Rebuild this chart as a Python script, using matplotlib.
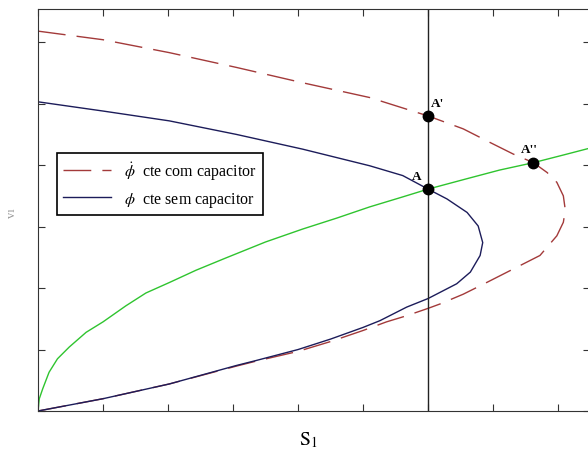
import numpy as np
import matplotlib
matplotlib.use("Agg")
import matplotlib.pyplot as plt

plt.rcParams["font.family"] = ["Liberation Serif", "DejaVu Serif"]
plt.rcParams["mathtext.fontset"] = "stix"

# curves (S1 on x, v1 on y)
green_x = [0.0, 0.02, 0.072, 0.17, 0.30, 0.48, 0.74, 1.0, 1.35, 1.66, 2.02, 2.43, 2.89, 3.5, 4.07,
           4.6, 5.1, 5.6, 6.0, 6.6, 7.1, 7.62, 8.1, 8.5]
green_y = [0.0, 0.2, 0.36, 0.63, 0.85, 1.04, 1.28, 1.45, 1.71, 1.92, 2.09, 2.29, 2.49, 2.75, 2.96,
           3.14, 3.32, 3.48, 3.61, 3.78, 3.92, 4.04, 4.17, 4.28]

blue_x = [0.0, 1.0, 2.02, 3.05, 4.07, 5.1, 5.61, 6.0, 6.29, 6.6, 6.77, 6.84, 6.8, 6.65, 6.44, 6.0,
          5.67, 5.26, 5.0, 4.5, 4.0, 3.35, 3.05, 2.02, 1.0, 0.0]
blue_y = [5.03, 4.88, 4.72, 4.50, 4.26, 3.99, 3.83, 3.61, 3.45, 3.23, 3.01, 2.74, 2.53, 2.26, 2.07, 1.83,
          1.69, 1.47, 1.36, 1.17, 1.0, 0.82, 0.74, 0.44, 0.20, 0.0]

red_x = [0.0, 1.0, 2.02, 3.05, 4.07, 5.1, 5.67, 6.0, 6.54, 6.95, 7.31, 7.62, 7.83, 7.98, 8.08, 8.11,
         8.08, 7.98, 7.72, 7.31, 6.9, 6.54, 6.18, 6.0, 5.67, 5.36, 5.0, 4.5, 4.0, 3.35, 3.05, 2.02, 1.0, 0.0]
red_y = [6.18, 6.04, 5.83, 5.59, 5.34, 5.10, 4.91, 4.80, 4.59, 4.37, 4.18, 4.04, 3.88, 3.72, 3.50, 3.27,
         3.07, 2.85, 2.53, 2.31, 2.09, 1.90, 1.74, 1.67, 1.55, 1.45, 1.31, 1.13, 0.97, 0.81, 0.73, 0.44, 0.20, 0.0]

s1_line = 6.0
pts_x = [6.0, 6.0, 7.62]
pts_y = [4.80, 3.61, 4.04]
pt_names = ["A'", "A", "A''"]

fig = plt.figure(figsize=(5.88, 4.52), dpi=100)
ax = fig.add_axes([38 / 588, 40 / 452, 552 / 588, 402 / 452])

ax.plot(red_x, red_y, color="#a33a3a", lw=1.0, dashes=(20, 8), label=r"$\dot{\phi}$  cte com capacitor")
ax.plot(blue_x, blue_y, color="#1c1c5a", lw=1.0, label=r"$\phi$  cte sem capacitor")
ax.plot(green_x, green_y, color="#2fc42f", lw=1.0)
ax.axvline(s1_line, color="#222222", lw=1.0)

ax.plot(pts_x, pts_y, "o", color="black", ms=7.5, zorder=5)
offsets = [(0.05, 0.12), (-0.25, 0.12), (-0.2, 0.12)]
for x, y, name, (dx, dy) in zip(pts_x, pts_y, pt_names, offsets):
    ax.text(x + dx, y + dy, name, fontsize=9.5, fontweight="bold", ha="left", va="bottom")

ax.set_xlim(0, 8.49)
ax.set_ylim(0, 6.54)
ax.set_xticks(np.arange(0, 9, 1))
ax.set_yticks(np.arange(0, 7, 1))
ax.tick_params(direction="in", length=5, top=True, right=True,
               labelbottom=False, labelleft=False, color="#333333")
for sp in ax.spines.values():
    sp.set_color("#333333")

leg = ax.legend(loc="upper left", bbox_to_anchor=(0.034, 0.642), borderaxespad=0,
                fancybox=False, edgecolor="black", fontsize=11.5, handlelength=3.0,
                framealpha=1)
leg.get_frame().set_linewidth(1.2)

fig.text(308 / 588, 1 - 440 / 452, r"$\mathrm{S}_1$", fontsize=14, ha="center", va="center")
fig.text(12 / 588, 1 - 213 / 452, "vı", fontsize=9, color="#999999", rotation=90, ha="center", va="center")

fig.savefig("out.png", dpi=100)
